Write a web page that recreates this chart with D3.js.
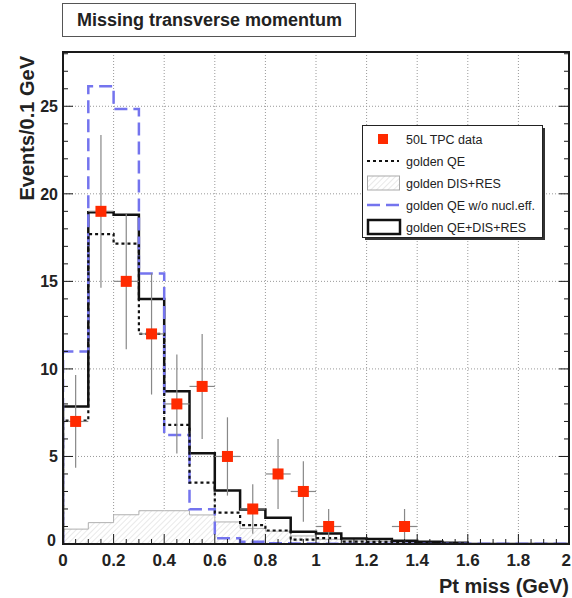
<!DOCTYPE html>
<html><head><meta charset="utf-8">
<script src="https://cdn.jsdelivr.net/npm/d3@7"></script>
<style>
html,body{margin:0;padding:0;background:#fff;}
svg{display:block;font-family:"Liberation Sans",Arial,Helvetica,sans-serif;}
</style></head>
<body><svg id="c" width="572" height="598"></svg>
<script>
// ---- data ----
const binLow = [0,0.1,0.2,0.3,0.4,0.5,0.6,0.7,0.8,0.9,1.0,1.1,1.2,1.3,1.4,1.5,1.6,1.7,1.8,1.9];
const binWidth = 0.1;
const qeDisRes = [7.85,18.95,18.8,14.0,8.72,5.18,3.05,1.97,1.5,0.7,0.6,0.32,0.28,0.19,0.13,0.07,0,0,0,0];
const goldenQE = [7.05,17.7,17.15,12.0,6.8,3.5,1.79,1.08,0.77,0.25,0.33,0.13,0.12,0.1,0.07,0.03,0,0,0,0];
const disRes   = [0.85,1.22,1.67,1.9,1.9,1.66,1.26,0.89,0.73,0.46,0.27,0.18,0.15,0.09,0.06,0.04,0,0,0,0];
const qeNoNucl = [11.0,26.15,24.85,15.45,6.22,1.98,0.33,0.13,0.04,0.03,0.02,0.02,0.01,0.01,0.01,0.01,0.01,0.01,0.01,0.01];
const dataX = [0.05,0.15,0.25,0.35,0.45,0.55,0.65,0.75,0.85,0.95,1.05,1.35];
const dataY = [7,19,15,12,8,9,5,2,4,3,1,1];
const xTicks = [0,0.2,0.4,0.6,0.8,1,1.2,1.4,1.6,1.8,2];
const xTickLabels = ["0","0.2","0.4","0.6","0.8","1","1.2","1.4","1.6","1.8","2"];
const yTicks = [0,5,10,15,20,25];
const legendLabels = ["50L TPC data","golden QE","golden DIS+RES","golden QE w/o nucl.eff.","golden QE+DIS+RES"];

const svg = d3.select("#c");
const L=63,R=569,T=52,B=544;
const x = d3.scaleLinear().domain([0,2]).range([L,R]);
const y = d3.scaleLinear().domain([0,28.1]).range([B,T]);

// defs: hatch
const defs = svg.append("defs");
const pat = defs.append("pattern").attr("id","hatch").attr("patternUnits","userSpaceOnUse")
  .attr("width",4).attr("height",4).attr("patternTransform","rotate(45)");
pat.append("rect").attr("width",4).attr("height",4).attr("fill","#fff");
pat.append("line").attr("x1",0).attr("y1",0).attr("x2",0).attr("y2",4).attr("stroke","#d4d4d4").attr("stroke-width",1);
defs.append("clipPath").attr("id","clip").append("rect").attr("x",L).attr("y",T).attr("width",R-L).attr("height",B-T);

// grid
const g = svg.append("g");
g.selectAll(".gx").data(xTicks.slice(1,-1)).join("line")
  .attr("x1",d=>x(d)).attr("x2",d=>x(d)).attr("y1",T).attr("y2",B)
  .attr("stroke","#999").attr("stroke-width",1).attr("stroke-dasharray","1,2");
g.selectAll(".gy").data(yTicks.slice(1)).join("line")
  .attr("x1",L).attr("x2",R).attr("y1",d=>y(d)).attr("y2",d=>y(d))
  .attr("stroke","#999").attr("stroke-width",1).attr("stroke-dasharray","1,2");

// histogram step path
function stepPath(vals){
  const p = d3.path();
  p.moveTo(x(binLow[0]), y(0));
  vals.forEach((v,i)=>{
    p.lineTo(x(binLow[i]), y(v));
    p.lineTo(x(binLow[i]+binWidth), y(v));
  });
  p.lineTo(x(binLow[vals.length-1]+binWidth), y(0));
  return p.toString();
}
const plot = svg.append("g").attr("clip-path","url(#clip)");
plot.append("path").attr("d",stepPath(disRes)).attr("fill","url(#hatch)").attr("stroke","#b0b0b0").attr("stroke-width",1);
plot.append("path").attr("d",stepPath(qeDisRes)).attr("fill","none").attr("stroke","#111").attr("stroke-width",2.5);
plot.append("path").attr("d",stepPath(qeNoNucl)).attr("fill","none").attr("stroke","#7474ee").attr("stroke-width",2.5).attr("stroke-dasharray","13,6");
plot.append("path").attr("d",stepPath(goldenQE)).attr("fill","none").attr("stroke","#111").attr("stroke-width",2.2).attr("stroke-dasharray","3,3");

// data points with error bars
const pts = svg.append("g");
dataX.forEach((cx,i)=>{
  const v = dataY[i], e = Math.sqrt(v);
  pts.append("line").attr("x1",x(cx)).attr("x2",x(cx)).attr("y1",y(v+e)).attr("y2",y(Math.max(0,v-e)))
    .attr("stroke","#888").attr("stroke-width",1.2);
  pts.append("line").attr("x1",x(cx-binWidth/2)).attr("x2",x(cx+binWidth/2)).attr("y1",y(v)).attr("y2",y(v))
    .attr("stroke","#888").attr("stroke-width",1.2);
  pts.append("rect").attr("x",x(cx)-5.5).attr("y",y(v)-5.5).attr("width",11).attr("height",11).attr("fill","#ff2a00");
});

// frame
svg.append("rect").attr("x",L).attr("y",T).attr("width",R-L).attr("height",B-T)
  .attr("fill","none").attr("stroke","#1a1a1a").attr("stroke-width",2);

// ticks
const yMinor = d3.range(0,29,1);
const ticks = svg.append("g").attr("stroke","#1a1a1a").attr("stroke-width",1);
yMinor.forEach(v=>{
  if (y(v) < T) return;
  const len = v%5===0 ? 10 : 5;
  ticks.append("line").attr("x1",L).attr("x2",L+len).attr("y1",y(v)).attr("y2",y(v));
  ticks.append("line").attr("x1",R).attr("x2",R-len).attr("y1",y(v)).attr("y2",y(v));
});
d3.range(0,2.001,0.05).forEach(v=>{
  const major = Math.abs(v*5-Math.round(v*5))<1e-6;
  const len = major ? 10 : 5;
  ticks.append("line").attr("x1",x(v)).attr("x2",x(v)).attr("y1",B).attr("y2",B-len);
});

// tick labels
svg.append("g").selectAll("text").data(yTicks).join("text")
  .attr("x",d=>d===0?56:58).attr("y",d=>y(d)+(d===0?2:6)).attr("text-anchor","end")
  .attr("font-size",16).attr("font-weight","bold").attr("fill","#222").text(d=>d);
svg.append("g").selectAll("text").data(xTicks).join("text")
  .attr("x",(d,i)=>i===xTicks.length-1 ? 571 : x(d)).attr("y",566)
  .attr("text-anchor",(d,i)=>i===xTicks.length-1 ? "end" : "middle")
  .attr("font-size",17).attr("font-weight","bold").attr("fill","#222").text((d,i)=>xTickLabels[i]);

// axis titles
svg.append("text").attr("x",R).attr("y",593).attr("text-anchor","end")
  .attr("font-size",20).attr("font-weight","bold").attr("fill","#222").text("Pt miss (GeV)");
svg.append("text").attr("transform","translate(34,56) rotate(-90)").attr("text-anchor","end")
  .attr("font-size",20).attr("font-weight","bold").attr("fill","#222").text("Events/0.1 GeV");

// title box
svg.append("rect").attr("x",62.5).attr("y",3.5).attr("width",293).attr("height",33)
  .attr("fill","#fff").attr("stroke","#555").attr("stroke-width",1);
svg.append("text").attr("x",77).attr("y",26).attr("font-size",18).attr("font-weight","bold").attr("fill","#222")
  .text("Missing transverse momentum");

// legend
const lg = svg.append("g");
lg.append("rect").attr("x",365).attr("y",128).attr("width",180).attr("height",112).attr("fill","#333");
lg.append("rect").attr("x",362.5).attr("y",125.5).attr("width",180).attr("height",112).attr("fill","#fff").attr("stroke","#222").attr("stroke-width",1);
const ly = legendLabels.map((d,i)=>139+i*22);
lg.selectAll("text").data(legendLabels).join("text")
  .attr("x",406).attr("y",(d,i)=>ly[i]+4.5).attr("font-size",12.5).attr("fill","#222").text(d=>d);
lg.append("rect").attr("x",378).attr("y",ly[0]-5).attr("width",10).attr("height",10).attr("fill","#ff2a00");
lg.append("line").attr("x1",367).attr("x2",399).attr("y1",ly[1]).attr("y2",ly[1]).attr("stroke","#111").attr("stroke-width",2.2).attr("stroke-dasharray","3,3");
lg.append("rect").attr("x",367.5).attr("y",ly[2]-7).attr("width",32).attr("height",14).attr("fill","url(#hatch)").attr("stroke","#aaa").attr("stroke-width",1);
lg.append("line").attr("x1",367).attr("x2",399).attr("y1",ly[3]).attr("y2",ly[3]).attr("stroke","#7474ee").attr("stroke-width",2.5).attr("stroke-dasharray","13,6");
lg.append("rect").attr("x",368).attr("y",ly[4]-7).attr("width",32).attr("height",14).attr("fill","#fff").attr("stroke","#111").attr("stroke-width",2.5);
</script></body></html>
